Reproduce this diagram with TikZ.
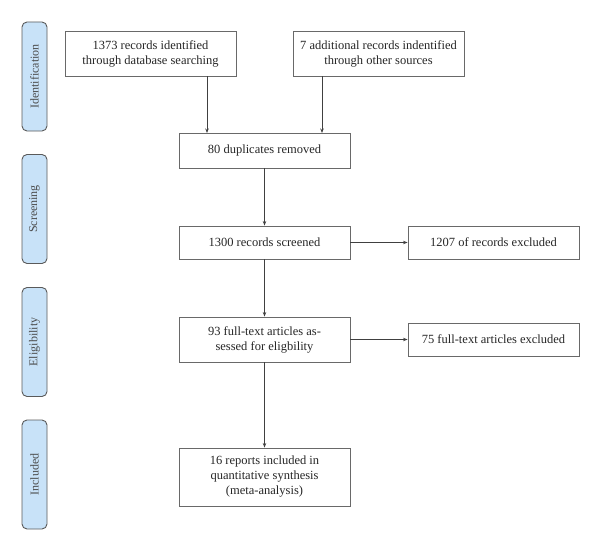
\documentclass[tikz,border=0pt]{standalone}
\usepackage{fontspec}
\setmainfont{Liberation Serif}
\usetikzlibrary{arrows.meta}
\definecolor{stagefill}{RGB}{200,226,248}
\definecolor{stageline}{RGB}{90,90,90}
\definecolor{boxline}{RGB}{105,105,105}
\tikzset{
  record/.style={
    draw=boxline, line width=.9pt,
    minimum width=171pt, minimum height=#1,
    inner sep=0pt, align=center, text=black!85,
    font=\fontsize{12.5}{15}\selectfont
  },
  record/.default={35pt},
  stage/.style={
    draw=stageline, fill=stagefill, line width=.9pt,
    rounded corners=5pt, rotate=90,
    minimum width=109pt, minimum height=25pt,
    inner sep=0pt, text=black!70,
    font=\fontsize{12}{14}\selectfont
  },
  flow/.style={draw=black!75, line width=.8pt, -{Stealth[length=4.5pt,width=3.5pt]}}
}

\begin{document}
\begin{tikzpicture}[x=1pt,y=-1pt]
    \useasboundingbox (0,0) rectangle (600,551);

    % phases on the left
    \node[stage] (ident) at (34.5,76.5) {Identification};
    \node[stage] (screen) at (34.5,209) {Screening};
    \node[stage] (elig) at (34.5,342) {Eligibility};
    \node[stage] (incl) at (34.5,474.5) {Included};

    % records
    \node[record=45pt] (db) at (150.5,53.5) {1373 records identified\\through database searching};
    \node[record=45pt] (other) at (378.5,53.5) {7 additional records indentified\\through other sources};
    \node[record] (dup) at (264.5,150.5) {80 duplicates removed};
    \node[record=33pt] (screened) at (264.5,242.5) {1300 records screened};
    \node[record=33pt] (excl) at (493.5,242.5) {1207 of records excluded};
    \node[record=45pt] (full) at (264.5,339.5) {93 full-text articles as-\\sessed for eligbility};
    \node[record=33pt] (fullex) at (493.5,339.5) {75 full-text articles excluded};
    \node[record=58pt] (synth) at (264.5,477) {16 reports included in\\quantitative synthesis\\(meta-analysis)};

    \coordinate (dbin) at (207,133);
    \coordinate (otherin) at (322,133);

    \draw[flow] (dbin |- db.south) -- (dbin);
    \draw[flow] (otherin |- other.south) -- (otherin);
    \draw[flow] (dup) -- (screened);
    \draw[flow] (screened) -- (excl);
    \draw[flow] (screened) -- (full);
    \draw[flow] (full) -- (fullex);
    \draw[flow] (full) -- (synth);
  \end{tikzpicture}
\end{document}
